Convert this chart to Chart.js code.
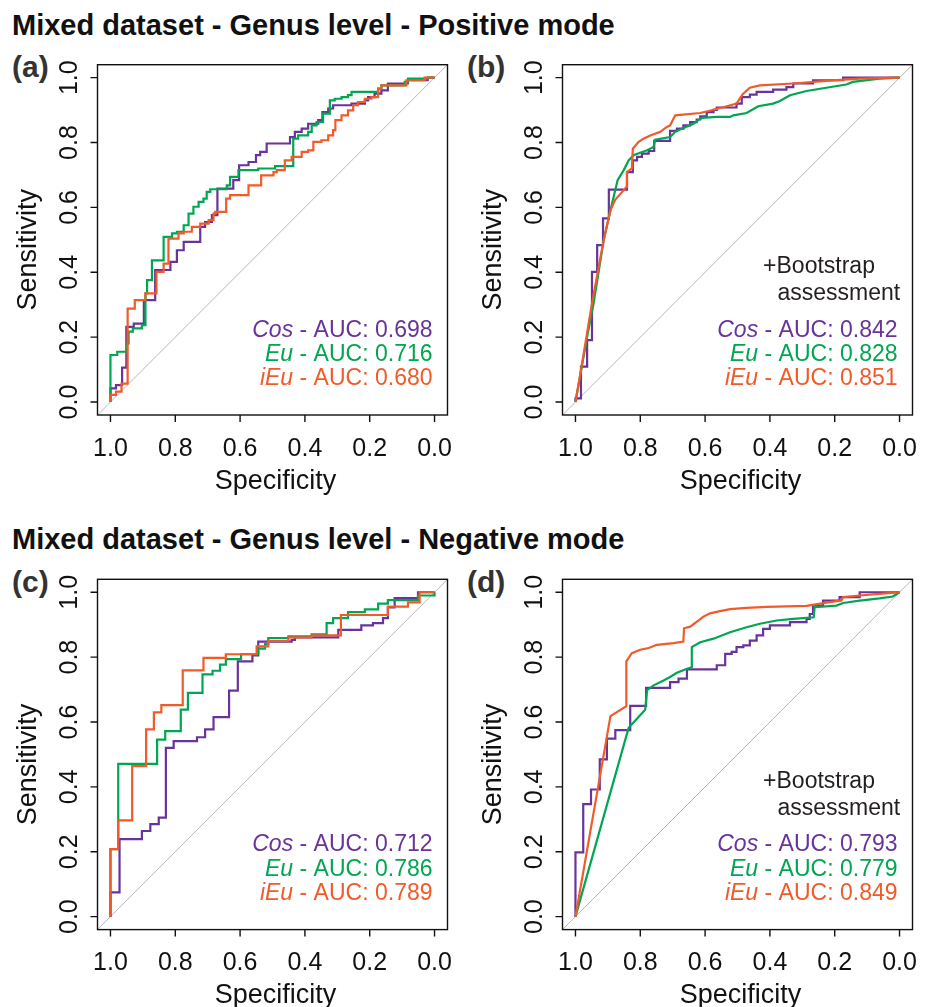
<!DOCTYPE html>
<html>
<head>
<meta charset="utf-8">
<title>Mixed dataset - Genus level - ROC curves</title>
<script src="https://cdn.jsdelivr.net/npm/chart.js@4.4.1/dist/chart.umd.min.js"></script>
<style>
html,body{margin:0;padding:0;background:#fff;}
body{position:relative;width:931px;height:1007px;overflow:hidden;font-family:"Liberation Sans",Arial,Helvetica,sans-serif;color:#000;}
canvas{position:absolute;left:0;top:0;}
.hd{position:absolute;font-weight:bold;white-space:nowrap;line-height:1;color:#111;}
</style>
</head>
<body>
<div class="hd" style="left:12px;top:10.5px;font-size:29px;">Mixed dataset - Genus level - Positive mode</div>
<div class="hd" style="left:12px;top:52px;font-size:30px;color:#333;">(a)</div>
<div class="hd" style="left:467px;top:52px;font-size:30px;color:#333;">(b)</div>
<div class="hd" style="left:12px;top:525px;font-size:29px;">Mixed dataset - Genus level - Negative mode</div>
<div class="hd" style="left:12px;top:566.5px;font-size:30px;color:#333;">(c)</div>
<div class="hd" style="left:467px;top:566.5px;font-size:30px;color:#333;">(d)</div>
<canvas id="cA" width="931" height="1007"></canvas>
<canvas id="cB" width="931" height="1007"></canvas>
<canvas id="cC" width="931" height="1007"></canvas>
<canvas id="cD" width="931" height="1007"></canvas>
<script>
// ---------- shared axis / labels ----------
const tickValues = [1.0, 0.8, 0.6, 0.4, 0.2, 0.0];
const tickLabels = ['1.0', '0.8', '0.6', '0.4', '0.2', '0.0'];
const methods = ['Cos', 'Eu', 'iEu'];
const seriesColors = ['#68339A', '#00A651', '#F15A29'];

// ---------- (a) Positive mode, no bootstrap ----------
const aCosSpec = [1.000,0.983,0.964,0.951,0.928,0.897,0.862,0.815,0.795,0.774,0.723,0.708,0.687,0.670,0.621,0.603,0.574,0.551,0.538,0.518,0.446,0.431,0.410,0.390,0.359,0.346,0.328,0.313,0.256,0.215,0.205,0.185,0.164,0.144,0.082,0.021,0.000];
const aCosSens = [0.000,0.042,0.052,0.106,0.232,0.242,0.314,0.407,0.432,0.468,0.494,0.540,0.555,0.576,0.658,0.684,0.730,0.740,0.761,0.771,0.797,0.817,0.833,0.843,0.858,0.869,0.894,0.905,0.915,0.920,0.930,0.940,0.951,0.961,0.982,0.992,1.000];
const aEuSpec = [1.000,0.979,0.949,0.944,0.931,0.903,0.892,0.887,0.872,0.836,0.810,0.795,0.774,0.759,0.744,0.728,0.713,0.703,0.692,0.641,0.631,0.605,0.544,0.492,0.436,0.421,0.390,0.379,0.364,0.344,0.323,0.308,0.287,0.267,0.256,0.174,0.164,0.092,0.082,0.021,0.000];
const aEuSens = [0.000,0.145,0.155,0.181,0.217,0.227,0.237,0.335,0.376,0.437,0.509,0.520,0.525,0.545,0.581,0.602,0.617,0.627,0.648,0.656,0.668,0.694,0.715,0.720,0.727,0.812,0.822,0.833,0.853,0.863,0.889,0.930,0.935,0.940,0.946,0.956,0.966,0.976,0.987,0.997,1.000];
const aIEuSpec = [1.000,0.983,0.966,0.947,0.925,0.892,0.858,0.836,0.821,0.790,0.774,0.749,0.723,0.697,0.682,0.677,0.643,0.631,0.574,0.535,0.497,0.487,0.462,0.441,0.410,0.390,0.374,0.349,0.328,0.313,0.306,0.287,0.267,0.251,0.236,0.215,0.195,0.174,0.164,0.087,0.031,0.000];
const aIEuSens = [0.000,0.022,0.032,0.057,0.288,0.314,0.335,0.401,0.427,0.504,0.520,0.525,0.540,0.550,0.561,0.581,0.586,0.627,0.638,0.668,0.699,0.709,0.715,0.745,0.756,0.771,0.776,0.802,0.807,0.822,0.838,0.869,0.884,0.899,0.915,0.925,0.935,0.940,0.966,0.976,0.992,1.000];
const aucA = ['0.698', '0.716', '0.680'];

// ---------- (b) Positive mode, + bootstrap ----------
const bCosSpec = [1.000,0.983,0.964,0.949,0.933,0.915,0.897,0.841,0.823,0.810,0.795,0.774,0.757,0.708,0.687,0.667,0.646,0.626,0.615,0.595,0.574,0.564,0.503,0.487,0.462,0.441,0.390,0.349,0.328,0.267,0.174,0.000];
const bCosSens = [0.000,0.011,0.109,0.191,0.401,0.484,0.566,0.655,0.709,0.745,0.756,0.766,0.774,0.805,0.836,0.843,0.853,0.863,0.871,0.881,0.894,0.901,0.908,0.920,0.940,0.948,0.956,0.963,0.971,0.982,0.992,1.000];
const bEuSpec = [1.000,0.964,0.944,0.913,0.892,0.870,0.851,0.836,0.821,0.779,0.759,0.754,0.708,0.692,0.677,0.636,0.621,0.610,0.564,0.523,0.513,0.472,0.436,0.390,0.369,0.338,0.287,0.226,0.164,0.144,0.062,0.000];
const bEuSens = [0.000,0.201,0.304,0.499,0.591,0.684,0.715,0.745,0.761,0.776,0.786,0.809,0.817,0.833,0.840,0.858,0.869,0.876,0.879,0.879,0.884,0.891,0.912,0.920,0.928,0.946,0.959,0.969,0.979,0.987,0.997,1.000];
const bIEuSpec = [1.000,0.983,0.949,0.913,0.892,0.877,0.862,0.843,0.841,0.826,0.823,0.805,0.790,0.769,0.738,0.718,0.708,0.692,0.615,0.574,0.533,0.503,0.484,0.462,0.431,0.328,0.226,0.123,0.000];
const bIEuSens = [0.000,0.099,0.304,0.499,0.591,0.624,0.641,0.663,0.709,0.720,0.781,0.802,0.812,0.822,0.833,0.848,0.853,0.884,0.891,0.901,0.912,0.920,0.949,0.969,0.976,0.982,0.990,0.997,1.000];
const aucB = ['0.842', '0.828', '0.851'];

// ---------- (c) Negative mode, no bootstrap ----------
const cCosSpec = [1.000,0.972,0.903,0.877,0.851,0.829,0.805,0.733,0.708,0.682,0.634,0.607,0.562,0.544,0.441,0.431,0.297,0.226,0.190,0.159,0.144,0.123,0.051,0.000];
const cCosSens = [0.000,0.075,0.239,0.264,0.285,0.305,0.520,0.541,0.553,0.577,0.615,0.697,0.787,0.805,0.848,0.853,0.861,0.884,0.898,0.905,0.920,0.953,0.982,1.000];
const cEuSpec = [1.000,0.976,0.856,0.831,0.783,0.761,0.716,0.685,0.662,0.644,0.597,0.544,0.523,0.513,0.451,0.379,0.333,0.313,0.267,0.215,0.174,0.144,0.051,0.000,0.000];
const cEuSens = [0.000,0.208,0.471,0.546,0.572,0.638,0.690,0.747,0.758,0.777,0.794,0.809,0.826,0.840,0.859,0.864,0.870,0.905,0.920,0.939,0.947,0.965,0.976,0.990,1.000];
const cIEuSpec = [1.000,0.976,0.933,0.890,0.866,0.843,0.777,0.713,0.644,0.549,0.513,0.451,0.379,0.289,0.144,0.082,0.046,0.000];
const cIEuSens = [0.000,0.208,0.297,0.464,0.577,0.630,0.652,0.759,0.798,0.809,0.833,0.850,0.861,0.867,0.930,0.956,0.969,1.000];
const aucC = ['0.712', '0.786', '0.789'];

// ---------- (d) Negative mode, + bootstrap ----------
const dCosSpec = [1.000,0.976,0.952,0.925,0.903,0.877,0.831,0.782,0.708,0.682,0.656,0.564,0.538,0.518,0.503,0.482,0.462,0.441,0.421,0.400,0.338,0.287,0.277,0.267,0.236,0.185,0.123,0.000];
const dCosSens = [0.000,0.198,0.347,0.392,0.485,0.549,0.575,0.650,0.705,0.723,0.734,0.762,0.775,0.810,0.816,0.831,0.836,0.851,0.867,0.887,0.898,0.908,0.918,0.933,0.959,0.974,0.985,1.000];
const dEuSpec = [1.000,0.836,0.785,0.779,0.759,0.728,0.708,0.687,0.656,0.641,0.641,0.615,0.574,0.523,0.472,0.431,0.379,0.328,0.265,0.262,0.195,0.174,0.123,0.062,0.021,0.000];
const dEuSens = [0.000,0.582,0.638,0.698,0.713,0.728,0.739,0.752,0.764,0.769,0.831,0.846,0.857,0.877,0.892,0.903,0.913,0.918,0.923,0.954,0.959,0.967,0.974,0.981,0.987,1.000];
const dIEuSpec = [1.000,0.892,0.843,0.843,0.826,0.800,0.774,0.749,0.697,0.667,0.665,0.646,0.626,0.605,0.585,0.554,0.523,0.472,0.410,0.287,0.226,0.179,0.174,0.123,0.062,0.000];
const dIEuSens = [0.000,0.618,0.649,0.787,0.812,0.823,0.828,0.838,0.843,0.848,0.889,0.894,0.909,0.925,0.935,0.942,0.948,0.952,0.955,0.958,0.968,0.975,0.985,0.990,0.995,1.000];
const aucD = ['0.793', '0.779', '0.849'];

// ---------- rendering ----------
const FONT = '"Liberation Sans", Arial, Helvetica, sans-serif';
const AX_MIN = -0.04, AX_MAX = 1.04;

const rAxes = {
  id: 'rAxes',
  afterDraw(chart, args, o) {
    const ctx = chart.ctx, a = chart.chartArea, xs = chart.scales.x, ys = chart.scales.y;
    ctx.save();
    ctx.strokeStyle = '#111';
    ctx.lineWidth = 1.4;
    ctx.strokeRect(a.left, a.top, a.right - a.left, a.bottom - a.top);
    ctx.fillStyle = '#111';
    ctx.font = '25px ' + FONT;
    ctx.textAlign = 'center';
    ctx.textBaseline = 'alphabetic';
    tickValues.forEach((v, i) => {
      const px = xs.getPixelForValue(v), py = ys.getPixelForValue(v);
      ctx.beginPath();
      ctx.moveTo(px, a.bottom); ctx.lineTo(px, a.bottom + 7);
      ctx.moveTo(a.left - 7, py); ctx.lineTo(a.left, py);
      ctx.stroke();
      ctx.fillText(tickLabels[i], px, a.bottom + 40.5);
      ctx.save();
      ctx.translate(a.left - 21, py);
      ctx.rotate(-Math.PI / 2);
      ctx.fillText(tickLabels[i], 0, 0);
      ctx.restore();
    });
    ctx.font = '27px ' + FONT;
    ctx.fillText('Specificity', (a.left + a.right) / 2 + 3, a.bottom + 73.5);
    ctx.save();
    ctx.translate(a.left - 62, (a.top + a.bottom) / 2 + 10);
    ctx.rotate(-Math.PI / 2);
    ctx.fillText('Sensitivity', 0, 0);
    ctx.restore();

    // AUC annotations
    const rx = a.right - 15;
    const offs = [78.3, 54, 30];
    ctx.textAlign = 'left';
    o.auc.forEach((v, i) => {
      ctx.fillStyle = seriesColors[i];
      ctx.font = '23px ' + FONT;
      const rest = ' - AUC: ' + v;
      const w = ctx.measureText(rest).width;
      ctx.fillText(rest, rx - w, a.bottom - offs[i]);
      ctx.font = 'italic 23px ' + FONT;
      const wm = ctx.measureText(methods[i]).width;
      ctx.fillText(methods[i], rx - w - wm, a.bottom - offs[i]);
    });
    if (o.boot) {
      ctx.fillStyle = '#231F20';
      ctx.font = '23px ' + FONT;
      const L = a.right - 135;
      const wp = ctx.measureText('+').width;
      ctx.fillText('+Bootstrap', L - wp - 1, a.bottom - 142);
      ctx.fillText('assessment', L, a.bottom - 115);
    }
    ctx.restore();
  }
};

function curveData(spec, sens) {
  return spec.map((s, i) => ({ x: s, y: sens[i] }));
}

function makePanel(id, box, curves, auc, boot) {
  const [l, t, r, b] = box;
  const datasets = [{
    data: [{ x: AX_MAX, y: AX_MIN }, { x: AX_MIN, y: AX_MAX }],
    borderColor: '#b8b8b8', borderWidth: 1, pointRadius: 0, order: 4
  }];
  curves.forEach((c, i) => {
    datasets.push({
      label: methods[i],
      data: curveData(c[0], c[1]),
      stepped: c[2] ? 'after' : false,
      borderColor: seriesColors[i],
      borderWidth: 2.2,
      pointRadius: 0,
      tension: 0,
      fill: false,
      order: 3 - i
    });
  });
  new Chart(document.getElementById(id), {
    type: 'line',
    data: { datasets },
    plugins: [rAxes],
    options: {
      responsive: false,
      animation: false,
      devicePixelRatio: 1,
      events: [],
      layout: { padding: { left: l, top: t, right: 931 - r, bottom: 1007 - b } },
      scales: {
        x: { type: 'linear', min: AX_MIN, max: AX_MAX, reverse: true, display: false },
        y: { type: 'linear', min: AX_MIN, max: AX_MAX, display: false }
      },
      plugins: {
        legend: { display: false },
        tooltip: { enabled: false },
        rAxes: { auc: auc, boot: boot }
      }
    }
  });
}

makePanel('cA', [97.5, 64.7, 447.5, 415],
  [[aCosSpec, aCosSens, true], [aEuSpec, aEuSens, true], [aIEuSpec, aIEuSens, true]], aucA, false);
makePanel('cB', [562.5, 64.7, 912.5, 415],
  [[bCosSpec, bCosSens, true], [bEuSpec, bEuSens, false], [bIEuSpec, bIEuSens, false]], aucB, true);
makePanel('cC', [97.5, 579.3, 447.5, 929.6],
  [[cCosSpec, cCosSens, true], [cEuSpec, cEuSens, true], [cIEuSpec, cIEuSens, true]], aucC, false);
makePanel('cD', [562.5, 579.3, 912.5, 929.6],
  [[dCosSpec, dCosSens, true], [dEuSpec, dEuSens, false], [dIEuSpec, dIEuSens, false]], aucD, true);
</script>
</body>
</html>
